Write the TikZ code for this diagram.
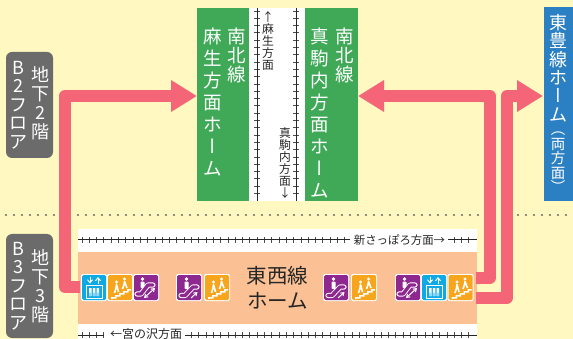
\documentclass[tikz,border=0pt]{standalone}
\usepackage{fontspec}
\setmainfont{Noto Sans CJK JP}
\newfontfamily\vjp[RawFeature=+vert]{Noto Sans CJK JP}
\usetikzlibrary{arrows.meta}
\definecolor{bgc}{HTML}{FFF8C0}
\definecolor{greenc}{HTML}{3FA957}
\definecolor{bluec}{HTML}{2B80C4}
\definecolor{grayc}{HTML}{6B6B6B}
\definecolor{redc}{HTML}{F46577}
\definecolor{peachc}{HTML}{FBC195}
\definecolor{purplec}{HTML}{8E278F}
\definecolor{orangec}{HTML}{F7A51C}
\definecolor{cyanc}{HTML}{0FA9E6}
\definecolor{dotc}{HTML}{8F8F7C}
\newcommand{\fs}[2]{\fontsize{#1}{#2}\selectfont}
\newcommand{\lv}{{\vjp ー}}
\tikzset{
  box/.style={inner sep=0pt,outer sep=0pt,anchor=north west},
  vlabel/.style={inner sep=0pt,anchor=north,align=center,text=white},
  tlabel/.style={inner sep=0pt,align=center,text=black!85},
  redarrow/.style={draw=redc,line width=12pt,line join=round,-{Triangle[length=26pt,width=30pt]}},
  rail/.style={draw=black!85,line width=.8pt},
  tie/.style={draw=black!70,line width=.9pt},
  esc/.pic={
    \fill[white,rounded corners=2pt] (0,0) rectangle (26,27);
    \fill[purplec,rounded corners=1.5pt] (1,1) rectangle (25,26);
    \fill[white] (10.5,5) circle (1.9);
    \fill[white,rounded corners=.8pt] (8.5,7.5) rectangle (12.5,15);
    \draw[white,line width=5.2pt,line cap=round,line join=round] (5,21.5) -- (9,21.5) -- (17,13) -- (21,13);
    \draw[purplec,line width=3.4pt,line cap=round,line join=round] (5,21.5) -- (9,21.5) -- (17,13) -- (21,13);
    \draw[white,line width=1pt,-{Straight Barb[length=3pt,width=4pt]}] (15,24) -- (21.5,18);
  },
  escb/.pic={
    \fill[white,rounded corners=2pt] (0,0) rectangle (26,27);
    \fill[purplec,rounded corners=1.5pt] (1,1) rectangle (25,26);
    \fill[white] (9.5,5) circle (1.9);
    \fill[white,rounded corners=.8pt] (7.5,7.5) rectangle (11.5,14);
    \draw[white,line width=5.2pt,line cap=round,line join=round] (4,20) -- (8,20) -- (15,11) -- (20,11);
    \draw[purplec,line width=3.4pt,line cap=round,line join=round] (4,20) -- (8,20) -- (15,11) -- (20,11);
    \draw[white,line width=1pt,{Straight Barb[length=3pt,width=4pt]}-{Straight Barb[length=3pt,width=4pt]}] (11,24) -- (22,14);
  },
  stair/.pic={
    \fill[white,rounded corners=2pt] (0,0) rectangle (26,27);
    \fill[orangec,rounded corners=1.5pt] (1,1) rectangle (25,26);
    \fill[white] (4,25) -- (4,23) -- (8,23) -- (8,21) -- (12,21) -- (12,19) -- (16,19) -- (16,17) -- (20,17) -- (20,15) -- (24,15) -- (24,16.5) -- (21.5,16.5) -- (21.5,18.5) -- (17.5,18.5) -- (17.5,20.5) -- (13.5,20.5) -- (13.5,22.5) -- (9.5,22.5) -- (9.5,24.5) -- (5.5,24.5) -- (5.5,25) -- cycle;
    \fill[white] (9.5,8) circle (1.7) (17.5,5) circle (1.7);
    \draw[white,line width=1.6pt,line join=round] (7.5,19) -- (9,14) -- (9.5,10.5) -- (11.5,18);
    \draw[white,line width=1.6pt,line join=round] (15.5,15) -- (17,10.5) -- (17.5,7.5) -- (20,14);
  },
  elev/.pic={
    \fill[white,rounded corners=2pt] (0,0) rectangle (26,27);
    \fill[cyanc,rounded corners=1.5pt] (1,1) rectangle (25,26);
    \draw[white,line width=1pt,-{Straight Barb[length=3pt,width=5pt]}] (9,3) -- (9,9.5);
    \draw[white,line width=1pt,-{Straight Barb[length=3pt,width=5pt]}] (17,9.5) -- (17,3);
    \draw[white,line width=1pt] (5,11.5) rectangle (21,24);
    \fill[white] (8,14) rectangle (10.5,22) (11.8,14) rectangle (14.3,22) (15.6,14) rectangle (18.1,22);
    \fill[cyanc!45] (8,18.5) rectangle (10.5,22) (11.8,18.5) rectangle (14.3,22) (15.6,18.5) rectangle (18.1,22);
  }
}
\begin{document}
\begin{tikzpicture}[x=1pt,y=-1pt]
\useasboundingbox (0,0) rectangle (573,339);
\clip (0,0) rectangle (573,339);
\fill[bgc] (0,0) rectangle (573,339);
% floor divider
\coordinate (divl) at (5,215);
\coordinate (divr) at (573,215);
\draw[dotc,line width=2.4pt,dash pattern=on 2.4pt off 5.6pt] (divl) -- (divr);
% south-north track bed
\node[box,fill=white,minimum width=56pt,minimum height=193pt] (nsbed) at (249,8) {};
\foreach \x in {257,296}{
  \foreach \y in {11,18.3,...,200}{\draw[tie] (\x-3,\y) -- (\x+3,\y);}
  \draw[rail,line width=1pt] (\x,8) -- (\x,201);
}
% platforms
\node[box,fill=greenc,minimum width=52pt,minimum height=193pt] (asabu) at (197,8) {};
\node[box,fill=greenc,minimum width=53pt,minimum height=193pt] (makoma) at (305,8) {};
\node[box,fill=bluec,minimum width=29pt,minimum height=194pt] (toho) at (544,7) {};
\node[box,fill=grayc,rounded corners=6pt,minimum width=47pt,minimum height=106pt] (b2) at (6,52) {};
\node[box,fill=grayc,rounded corners=6pt,minimum width=47pt,minimum height=104pt] (b3) at (6,234) {};
% east-west platform
\node[box,fill=white,minimum width=399pt,minimum height=115pt] (ewbed) at (78,229) {};
\foreach \y/\a/\b/\c/\d in {240/78/350/448/477,335/78/104/185/477}{
  \foreach \x in {82,89.3,...,476}{
    \pgfmathparse{(\x<\b)||(\x>\c)?1:0}
    \ifnum\pgfmathresult=1 \draw[tie] (\x,\y-3) -- (\x,\y+3);\fi
  }
  \draw[rail,line width=1pt] (\a,\y) -- (\b,\y) (\c,\y) -- (\d,\y);
}
\node[box,fill=peachc,minimum width=399pt,minimum height=72pt] (ew) at (78,252) {};
% connectors
\coordinate (ewwest) at (80,287);
\coordinate (asabuport) at (197,96);
\coordinate (ewup) at (476,277.5);
\coordinate (makomaport) at (358,96);
\coordinate (ewlow) at (476,297.5);
\coordinate (tohoport) at (543,96);
\coordinate (c1) at (65,287);
\coordinate (c2) at (65,96);
\coordinate (c3) at (490,277.5);
\coordinate (c4) at (490,96);
\coordinate (c5) at (507,297.5);
\coordinate (c6) at (507,96);
\draw[redarrow] (ewwest) -- (c1) -- (c2) -- (asabuport);
\draw[redarrow] (ewup) -- (c3) -- (c4) -- (makomaport);
\draw[redarrow] (ewlow) -- (c5) -- (c6) -- (tohoport);
% icons
\pic at (81,274) {elev};
\pic at (107,274) {stair};
\pic at (133,274) {escb};
\pic at (176,274) {esc};
\pic at (204,274) {stair};
\pic at (323,274) {esc};
\pic at (351,274) {stair};
\pic at (395,274) {escb};
\pic at (421,274) {elev};
\pic at (447.5,274) {stair};
% texts
\node[vlabel,font=\fs{18.5}{18.7}] (t1) at (237,28) {南\\北\\線};
\node[vlabel,font=\fs{18.5}{21.9}] (t2) at (213,28) {麻\\生\\方\\面\\ホ\\\lv\\ム};
\node[vlabel,font=\fs{18.5}{18.7}] (t3) at (345,28) {南\\北\\線};
\node[vlabel,font=\fs{18.5}{21.9}] (t4) at (320,28) {真\\駒\\内\\方\\面\\ホ\\\lv\\ム};
\node[vlabel,font=\fs{18}{18.4}] (t5) at (558,14) {東\\豊\\線\\ホ\\\lv\\ム};
\node[vlabel,font=\fs{14.5}{14.4}] (t6) at (558,132) {{\vjp （}\\両\\方\\面\\{\vjp ）}};
\node[vlabel,font=\fs{18}{19}] (t7) at (40,66) {地\\下\\2\\階};
\node[vlabel,font=\fs{18}{18.5}] (t8) at (18.5,61) {B\\2\\フ\\ロ\\ア};
\node[vlabel,font=\fs{18}{19}] (t9) at (40,249) {地\\下\\3\\階};
\node[vlabel,font=\fs{18}{18.5}] (t10) at (18.5,242) {B\\3\\フ\\ロ\\ア};
\node[tlabel,anchor=north,font=\fs{11.8}{12}] (t11) at (268,11) {↑\\麻\\生\\方\\面};
\node[tlabel,anchor=north,font=\fs{11.8}{12}] (t12) at (285,127) {真\\駒\\内\\方\\面\\↓};
\node[tlabel,font=\fs{11.4}{12}] (t13) at (399.5,240) {新さっぽろ方面→};
\node[tlabel,font=\fs{12}{12}] (t14) at (146,334) {←宮の沢方面};
\node[tlabel,font=\fs{20.5}{25}] (t15) at (277.5,288) {東西線\\ホーム};
\end{tikzpicture}
\end{document}
